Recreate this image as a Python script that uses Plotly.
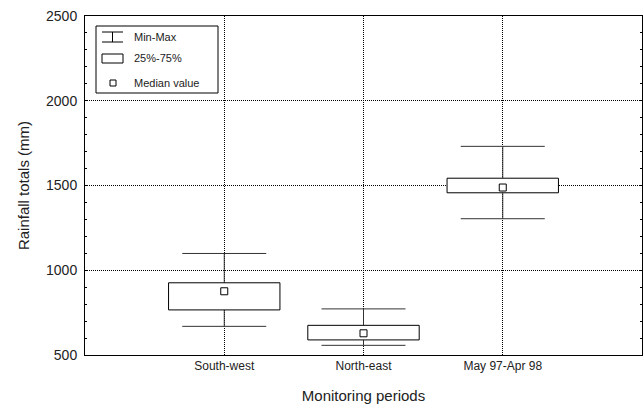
import plotly.graph_objects as go

# rainfall totals per monitoring period (mm)
periods = ["South-west", "North-east", "May 97-Apr 98"]
mins = [669, 557, 1304]
q1 = [766, 589, 1457]
medians = [876, 628, 1488]
q3 = [926, 675, 1543]
maxs = [1099, 772, 1731]

pos = [1, 2, 3]
box_w = 0.8
font_fam = "Arial, Liberation Sans, sans-serif"

fig = go.Figure()

# min-max whiskers (drawn first so boxes cover them)
fig.add_trace(go.Scatter(
    x=pos, y=medians, mode='markers', marker=dict(size=1, opacity=0),
    error_y=dict(type='data', symmetric=False,
                 array=[mx - m for mx, m in zip(maxs, medians)],
                 arrayminus=[m - mn for m, mn in zip(medians, mins)],
                 width=42, thickness=1, color='#333333'),
    hoverinfo='skip'))

# 25%-75% boxes
for p, lo, hi in zip(pos, q1, q3):
    fig.add_trace(go.Scatter(
        x=[p - box_w / 2, p + box_w / 2, p + box_w / 2, p - box_w / 2, p - box_w / 2],
        y=[lo, lo, hi, hi, lo],
        mode='lines', fill='toself', fillcolor='white',
        line=dict(color='black', width=1), hoverinfo='skip'))

# median values
fig.add_trace(go.Scatter(
    x=pos, y=medians, mode='markers',
    marker=dict(symbol='square-open', size=7, color='black', line=dict(width=1))))

# plot area in pixels
L, R, T, B = 85, 2, 16, 53
W, H = 644, 408
pw, ph = W - L - R, H - T - B


def px(v):
    return (v - L) / pw


def py(v):
    return (H - B - v) / ph


# hand-made legend like the original
shapes = [
    dict(type='rect', x0=px(96), x1=px(218), y0=py(26), y1=py(93)),
    dict(type='line', x0=px(102), x1=px(123), y0=py(32), y1=py(32)),
    dict(type='line', x0=px(102), x1=px(123), y0=py(42), y1=py(42)),
    dict(type='line', x0=px(112.5), x1=px(112.5), y0=py(32), y1=py(42)),
    dict(type='rect', x0=px(102), x1=px(123), y0=py(54), y1=py(63)),
    dict(type='rect', x0=px(110), x1=px(116), y0=py(80), y1=py(86)),
]
for s in shapes:
    s.update(xref='paper', yref='paper', layer='above', line=dict(color='black', width=1))
    if s['type'] == 'rect':
        s['fillcolor'] = 'white'

legend_labels = ["Min-Max", "25%-75%", "Median value"]
legend_y = [37, 58, 83]
annotations = [dict(x=px(132), y=py(yy), xref='paper', yref='paper', text=t,
                    showarrow=False, xanchor='left', yanchor='middle',
                    font=dict(size=11, color='#222222'))
               for t, yy in zip(legend_labels, legend_y)]

fig.update_xaxes(range=[0, 4], tickvals=pos, ticktext=periods, ticks='',
                 showgrid=True, gridcolor='black', griddash='1px,1px', gridwidth=1,
                 showline=True, linecolor='black', linewidth=1, mirror=True, zeroline=False,
                 tickfont=dict(size=12), title=dict(text="Monitoring periods", font=dict(size=15), standoff=18))
fig.update_yaxes(range=[500, 2500], dtick=500, ticks='inside', ticklen=3, tickcolor='black',
                 minor=dict(dtick=100, ticks='inside', ticklen=2, tickcolor='black', showgrid=False),
                 showgrid=True, gridcolor='black', griddash='1px,1px', gridwidth=1,
                 showline=True, linecolor='black', linewidth=1, mirror='ticks', zeroline=False,
                 tickfont=dict(size=14), ticklabelstandoff=4,
                 title=dict(text="Rainfall totals (mm)", font=dict(size=15), standoff=12))

fig.update_layout(width=W, height=H, showlegend=False,
                  margin=dict(l=L, r=R, t=T, b=B),
                  font=dict(family=font_fam, color='#222222'),
                  plot_bgcolor='white', paper_bgcolor='white',
                  shapes=shapes, annotations=annotations)

# drop the default page margin so the figure fills the window exactly
fig.write_html("out.html", config=dict(displayModeBar=False),
               post_script="document.body.style.margin='0';")
